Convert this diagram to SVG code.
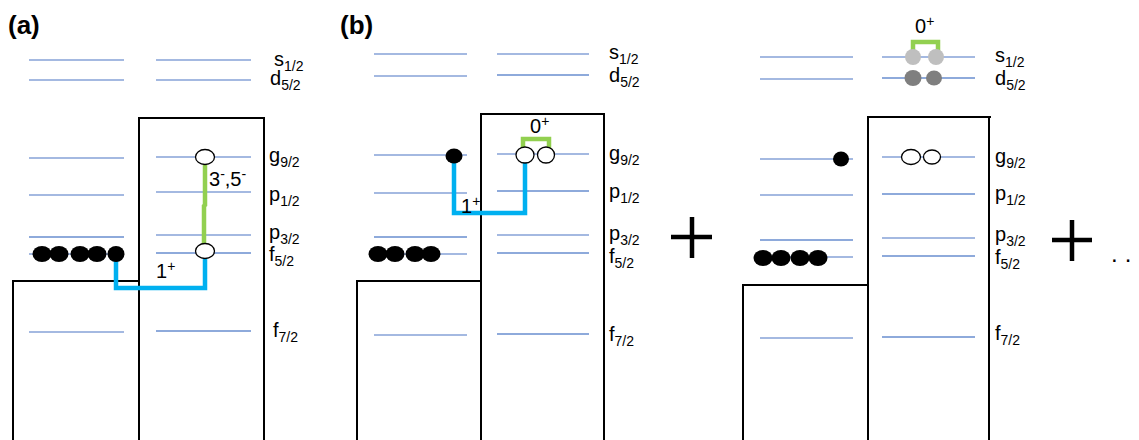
<svg xmlns="http://www.w3.org/2000/svg" width="1139" height="440" viewBox="0 0 1139 440">
<style>
.lv{stroke:#4a74c4;stroke-width:1.2;fill:none}
.lvl{stroke:#8eaadb;stroke-width:2;fill:none}
.box{stroke:#000;stroke-width:2;fill:none}
.t{font-family:"Liberation Sans",Arial,sans-serif;font-size:20px;fill:#000}
.s{font-size:14px}
.lab{font-family:"Liberation Sans",Arial,sans-serif;font-size:26px;font-weight:bold;fill:#000}
.full{fill:#000}
.hole{fill:#fff;stroke:#000;stroke-width:1.3}
.blue{stroke:#00b0f0;stroke-width:4.5;fill:none}
.green{stroke:#92d050;stroke-width:4.5;fill:none}
.plus{stroke:#000;stroke-width:4.5}
</style>
<rect width="1139" height="440" fill="#fff"/>

<!-- Panel (a) -->
<g id="panel-a">
<text class="lab" x="8" y="34">(a)</text>
<g id="a-levels-left">
<line class="lv" x1="29" y1="60" x2="124" y2="60"/>
<line class="lv" x1="29" y1="80" x2="124" y2="80"/>
<line class="lv" x1="29" y1="158" x2="124" y2="158"/>
<line class="lv" x1="29" y1="195" x2="124" y2="195"/>
<line class="lvl" x1="29" y1="237" x2="124" y2="237"/>
<line class="lv" x1="29" y1="254" x2="124" y2="254"/>
<line class="lv" x1="29" y1="332" x2="124" y2="332"/>
</g>
<g id="a-levels-right">
<line class="lv" x1="156" y1="60" x2="251" y2="60"/>
<line class="lv" x1="156" y1="80" x2="251" y2="80"/>
<line class="lv" x1="156" y1="157" x2="251" y2="157"/>
<line class="lv" x1="156" y1="192" x2="251" y2="192"/>
<line class="lv" x1="156" y1="235" x2="251" y2="235"/>
<line class="lvl" x1="156" y1="253" x2="251" y2="253"/>
<line class="lvl" x1="156" y1="331" x2="251" y2="331"/>
</g>
<g id="a-wells">
<polyline class="box" points="139,440 139,118 264,118 264,440"/>
<polyline class="box" points="13,440 13,281 139,281"/>
</g>
<g id="a-labels">
<text class="t" x="274" y="66">s<tspan class="s" dy="5">1/2</tspan></text>
<text class="t" x="270" y="85">d<tspan class="s" dy="5">5/2</tspan></text>
<text class="t" x="269" y="162">g<tspan class="s" dy="5">9/2</tspan></text>
<text class="t" x="269" y="201">p<tspan class="s" dy="5">1/2</tspan></text>
<text class="t" x="269" y="239">p<tspan class="s" dy="5">3/2</tspan></text>
<text class="t" x="269" y="261">f<tspan class="s" dy="5">5/2</tspan></text>
<text class="t" x="273" y="337">f<tspan class="s" dy="5">7/2</tspan></text>
</g>
<g id="a-connectors">
<polyline class="blue" points="116,258 116,288 205,288 205,258"/>
<polyline class="green" points="205,165 205,205 204,206 204,246"/>
</g>
<g id="a-particles">
<ellipse class="full" cx="42" cy="254" rx="9.5" ry="8"/>
<ellipse class="full" cx="59" cy="254" rx="9.5" ry="8"/>
<ellipse class="full" cx="80" cy="254" rx="9.5" ry="8"/>
<ellipse class="full" cx="97" cy="254" rx="9.5" ry="8"/>
<ellipse class="full" cx="116" cy="254" rx="8.5" ry="8"/>
<ellipse class="hole" cx="205" cy="157" rx="9.5" ry="7.5"/>
<ellipse class="hole" cx="205" cy="251" rx="9.5" ry="7.5"/>
</g>
<text class="t" x="209" y="186">3<tspan class="s" dy="-7">-</tspan><tspan dy="7">,5</tspan><tspan class="s" dy="-7">-</tspan></text>
<text class="t" x="156" y="278">1<tspan class="s" dy="-7">+</tspan></text>
</g>

<!-- Panel (b) -->
<g id="panel-b">
<text class="lab" x="340" y="34">(b)</text>
<g id="b-levels-left">
<line class="lv" x1="374" y1="54" x2="467" y2="54"/>
<line class="lv" x1="374" y1="76" x2="467" y2="76"/>
<line class="lv" x1="374" y1="155" x2="467" y2="155"/>
<line class="lv" x1="374" y1="193" x2="467" y2="193"/>
<line class="lvl" x1="374" y1="237" x2="467" y2="237"/>
<line class="lv" x1="374" y1="254" x2="467" y2="254"/>
<line class="lv" x1="374" y1="335" x2="467" y2="335"/>
</g>
<g id="b-levels-right">
<line class="lv" x1="497" y1="54" x2="589" y2="54"/>
<line class="lvl" x1="497" y1="75" x2="589" y2="75"/>
<line class="lv" x1="497" y1="154" x2="589" y2="154"/>
<line class="lvl" x1="497" y1="191" x2="589" y2="191"/>
<line class="lv" x1="497" y1="235" x2="589" y2="235"/>
<line class="lvl" x1="497" y1="253" x2="589" y2="253"/>
<line class="lvl" x1="497" y1="334" x2="589" y2="334"/>
</g>
<g id="b-wells">
<polyline class="box" points="481,440 481,114 604,114 604,440"/>
<polyline class="box" points="357,440 357,281 481,281"/>
</g>
<g id="b-labels">
<text class="t" x="609" y="59">s<tspan class="s" dy="5">1/2</tspan></text>
<text class="t" x="609" y="82">d<tspan class="s" dy="5">5/2</tspan></text>
<text class="t" x="609" y="160">g<tspan class="s" dy="5">9/2</tspan></text>
<text class="t" x="609" y="198">p<tspan class="s" dy="5">1/2</tspan></text>
<text class="t" x="609" y="240">p<tspan class="s" dy="5">3/2</tspan></text>
<text class="t" x="609" y="263">f<tspan class="s" dy="5">5/2</tspan></text>
<text class="t" x="609" y="341">f<tspan class="s" dy="5">7/2</tspan></text>
</g>
<g id="b-connectors">
<polyline class="blue" points="454,162 454,213 525,213 525,162"/>
<polyline class="green" points="523,149 523,139 549,139 549,151"/>
</g>
<g id="b-particles">
<ellipse class="full" cx="454" cy="156" rx="8.5" ry="7.5"/>
<ellipse class="hole" cx="525" cy="155" rx="9" ry="8"/>
<ellipse class="hole" cx="546" cy="155" rx="8.5" ry="8"/>
<ellipse class="full" cx="378" cy="254" rx="9.5" ry="8"/>
<ellipse class="full" cx="395" cy="254" rx="9.5" ry="8"/>
<ellipse class="full" cx="415" cy="254" rx="9.5" ry="8"/>
<ellipse class="full" cx="431" cy="254" rx="9.5" ry="8"/>
</g>
<text class="t" x="530" y="133">0<tspan class="s" dy="-7">+</tspan></text>
<text class="t" x="461" y="213">1<tspan class="s" dy="-7">+</tspan></text>
</g>

<g id="plus-1">
<line class="plus" x1="671" y1="237" x2="712" y2="237"/>
<line class="plus" x1="692" y1="217" x2="692" y2="258"/>
</g>

<!-- Panel (c) -->
<g id="panel-c">
<g id="c-levels-left">
<line class="lv" x1="760" y1="57" x2="853" y2="57"/>
<line class="lv" x1="760" y1="79" x2="853" y2="79"/>
<line class="lv" x1="760" y1="159" x2="853" y2="159"/>
<line class="lv" x1="760" y1="195" x2="853" y2="195"/>
<line class="lvl" x1="760" y1="240" x2="853" y2="240"/>
<line class="lv" x1="760" y1="257" x2="853" y2="257"/>
<line class="lv" x1="760" y1="338" x2="853" y2="338"/>
</g>
<g id="c-levels-right">
<line class="lv" x1="882" y1="57" x2="975" y2="57"/>
<line class="lvl" x1="882" y1="78" x2="975" y2="78"/>
<line class="lv" x1="882" y1="157" x2="975" y2="157"/>
<line class="lvl" x1="882" y1="194" x2="975" y2="194"/>
<line class="lv" x1="882" y1="238" x2="975" y2="238"/>
<line class="lvl" x1="882" y1="256" x2="975" y2="256"/>
<line class="lvl" x1="882" y1="337" x2="975" y2="337"/>
</g>
<g id="c-wells">
<polyline class="box" points="868,440 868,117 991,117"/>
<line class="box" x1="989" y1="117" x2="989" y2="440"/>
<polyline class="box" points="743,440 743,285 868,285"/>
</g>
<g id="c-labels">
<text class="t" x="995" y="62">s<tspan class="s" dy="5">1/2</tspan></text>
<text class="t" x="995" y="85">d<tspan class="s" dy="5">5/2</tspan></text>
<text class="t" x="995" y="163">g<tspan class="s" dy="5">9/2</tspan></text>
<text class="t" x="995" y="200">p<tspan class="s" dy="5">1/2</tspan></text>
<text class="t" x="995" y="241">p<tspan class="s" dy="5">3/2</tspan></text>
<text class="t" x="995" y="264">f<tspan class="s" dy="5">5/2</tspan></text>
<text class="t" x="995" y="340">f<tspan class="s" dy="5">7/2</tspan></text>
</g>
<g id="c-connectors">
<polyline class="green" points="913,51 913,42 938,42 938,51"/>
</g>
<g id="c-particles">
<ellipse cx="913" cy="57" rx="8" ry="8" fill="#bfbfbf"/>
<ellipse cx="936" cy="57" rx="8" ry="8" fill="#bfbfbf"/>
<ellipse cx="913" cy="78" rx="8.5" ry="8" fill="#7f7f7f"/>
<ellipse cx="934" cy="78" rx="8" ry="7.5" fill="#7f7f7f"/>
<ellipse class="full" cx="841" cy="159" rx="8" ry="7.5"/>
<ellipse class="hole" cx="911" cy="157" rx="9.5" ry="7.5"/>
<ellipse class="hole" cx="932" cy="157" rx="8.5" ry="7"/>
<ellipse class="full" cx="763" cy="258" rx="9.5" ry="8"/>
<ellipse class="full" cx="781" cy="258" rx="9.5" ry="8"/>
<ellipse class="full" cx="800" cy="258" rx="9.5" ry="8"/>
<ellipse class="full" cx="818" cy="258" rx="9.5" ry="8"/>
</g>
<text class="t" x="915" y="33">0<tspan class="s" dy="-7">+</tspan></text>
</g>

<g id="plus-2">
<line class="plus" x1="1052" y1="240" x2="1092" y2="240"/>
<line class="plus" x1="1072" y1="220" x2="1072" y2="261"/>
</g>
<text class="t" x="1111" y="262" style="font-size:24px;letter-spacing:7px">..</text>
</svg>
